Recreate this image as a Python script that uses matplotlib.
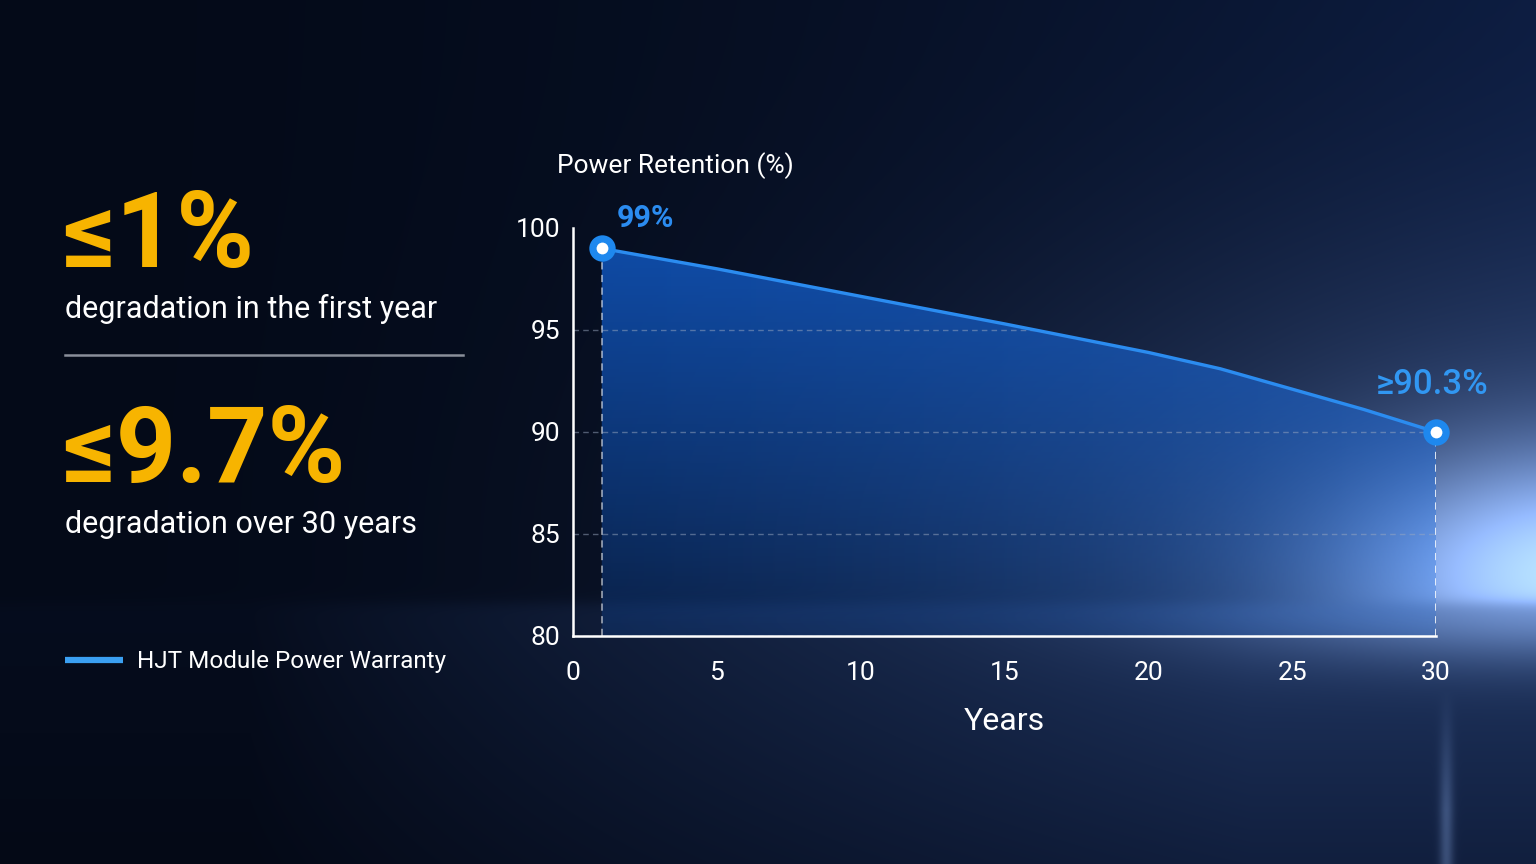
import matplotlib.pyplot as plt
import numpy as np
from matplotlib.patches import Polygon

# data
years = [1, 5, 10, 15, 20, 22.5, 25, 27.5, 30]
retention = [99.0, 98.0, 96.65, 95.3, 93.9, 93.1, 92.1, 91.1, 90.0]
x_ticks = [0, 5, 10, 15, 20, 25, 30]
y_ticks = [80, 85, 90, 95, 100]
first_label = '99%'
last_label = '≥90.3%'
stat_1 = '≤1%'
stat_1_text = 'degradation in the first year'
stat_2 = '≤9.7%'
stat_2_text = 'degradation over 30 years'
series_name = 'HJT Module Power Warranty'

W, H = 1536, 864
FONT = ['Roboto', 'DejaVu Sans']
YELLOW = '#f7b400'
BLUE = '#2b8cf0'
plt.rcParams['font.family'] = FONT


def fx(px):
    return px / W


def fy(py):
    return 1 - py / H


def background():
    yy, xx = np.mgrid[0:H, 0:W].astype(float)
    t = (xx / W) ** 1.8
    c0 = np.array([4, 10, 24]) / 255
    c1 = np.array([12, 28, 64]) / 255
    sky = c0 * (1 - t[..., None]) + c1 * t[..., None]
    glow_col = np.array([180, 208, 250]) / 255
    core = np.exp(-(((xx - 1580) / 240) ** 2 + ((yy - 575) / 120) ** 2))
    wide = np.exp(-(((xx - 1600) / 620) ** 2 + ((yy - 560) / 300) ** 2))
    sky = sky + (core * 0.75 + wide * 0.22)[..., None] * glow_col
    # ocean below the horizon
    h = 1 / (1 + np.exp(-(yy - 603) / 4))
    ot = np.clip((yy - 600) / 264, 0, 1)[..., None]
    side = (np.clip((xx - 250) / 1000, 0, 1) ** 0.9)[..., None]
    near = np.array([6, 13, 30]) / 255 * (1 - side) + np.array([32, 54, 98]) / 255 * side
    far = np.array([4, 9, 22]) / 255 * (1 - side) + np.array([17, 31, 62]) / 255 * side
    sea = near * (1 - ot) + far * ot
    oglow = np.exp(-(((xx - 1570) / 330) ** 2 + ((yy - 605) / 55) ** 2)) * 0.45
    streak = np.exp(-((xx - 1446) / 7) ** 2) * np.clip((yy - 690) / 120, 0, 1) * 0.22
    sea = sea + (oglow + streak)[..., None] * glow_col
    out = sky * (1 - h[..., None]) + sea * h[..., None]
    return np.clip(out, 0, 1)


fig = plt.figure(figsize=(15.36, 8.64), dpi=100)
bg = fig.add_axes([0, 0, 1, 1])
bg.imshow(background(), aspect='auto', extent=[0, W, H, 0], zorder=0)
bg.axis('off')

# left text column
fig.text(fx(62), fy(267), stat_1, color=YELLOW, fontsize=76, fontweight='bold',
         va='baseline', ha='left')
fig.text(fx(65), fy(318), stat_1_text, color='white', fontsize=22, va='baseline')
fig.add_artist(plt.Line2D([fx(65), fx(463)], [fy(355), fy(355)],
                          color='#8a8f9a', lw=1.8))
fig.text(fx(62), fy(482), stat_2, color=YELLOW, fontsize=76, fontweight='bold',
         va='baseline', ha='left')
fig.text(fx(65), fy(533), stat_2_text, color='white', fontsize=22, va='baseline')
fig.add_artist(plt.Line2D([fx(65), fx(123)], [fy(660), fy(660)],
                          color='#3ba0f2', lw=4.5, solid_capstyle='butt'))
fig.text(fx(137), fy(668), series_name, color='white', fontsize=17.5, va='baseline')

# chart
ax = fig.add_axes([fx(573), fy(636), fx(1436) - fx(573), (636 - 228) / H])
ax.set_facecolor('none')
ax.set_xlim(x_ticks[0], x_ticks[-1])
ax.set_ylim(y_ticks[0], y_ticks[-1])

area = Polygon(np.column_stack([years + years[::-1],
                                retention + [y_ticks[0]] * len(years)]),
               closed=True, facecolor='none', edgecolor='none',
               transform=ax.transData)
ax.add_patch(area)

ny, nx = 200, 300
gy = np.linspace(1, 0, ny)[:, None]
gx = np.linspace(0, 1, nx)[None, :]
grad = np.zeros((ny, nx, 4))
grad[..., 0] = 0.07 + 0.04 * gx
grad[..., 1] = 0.38 + 0.04 * gx
grad[..., 2] = 0.84 + 0.03 * gx
grad[..., 3] = np.clip(0.18 + 0.58 * gy ** 0.9, 0, 1)
im = ax.imshow(grad, aspect='auto', origin='upper',
               extent=[x_ticks[0], x_ticks[-1], y_ticks[0], y_ticks[-1]], zorder=1)
im.set_clip_path(area)

grid_area = Polygon(np.column_stack([[x_ticks[0]] + years + [years[-1], x_ticks[0]],
                                     [retention[0]] + retention + [y_ticks[0], y_ticks[0]]]),
                    closed=True, facecolor='none', edgecolor='none',
                    transform=ax.transData)
ax.add_patch(grid_area)
ax.set_yticks(y_ticks)
ax.set_xticks(x_ticks)
ax.yaxis.grid(True, color='#9aa8c0', alpha=0.5, lw=1, ls=(0, (4, 3)))
for gl in ax.get_ygridlines():
    gl.set_clip_path(grid_area)

for xv, yv, a in [(years[0], retention[0], 0.55), (years[-1], retention[-1], 0.9)]:
    ax.vlines(xv, y_ticks[0], yv, colors='white', alpha=a, lw=1.3,
              linestyles=(0, (4, 3)), zorder=3)

ax.plot(years, retention, color=BLUE, lw=2.4, zorder=4, solid_capstyle='round',
        solid_joinstyle='round')
ends_x = [years[0], years[-1]]
ends_y = [retention[0], retention[-1]]
ax.plot(ends_x, ends_y, ls='none', marker='o', ms=19, mfc='#1e88ee', mec='none',
        zorder=5, clip_on=False)
ax.plot(ends_x, ends_y, ls='none', marker='o', ms=8.5, mfc='white', mec='none',
        zorder=6, clip_on=False)

ax.annotate(first_label, (years[0], retention[0]), xytext=(15, 30),
            textcoords='offset pixels', color=BLUE, fontsize=22, fontweight='bold',
            ha='left', va='center', annotation_clip=False)
ax.annotate(last_label, (years[-1], retention[-1]), xytext=(-4, 48),
            textcoords='offset pixels', color='#3197f2', fontsize=25,
            fontweight='medium', ha='center', va='center', annotation_clip=False)

for s in ('top', 'right'):
    ax.spines[s].set_visible(False)
for s in ('left', 'bottom'):
    ax.spines[s].set_color('white')
    ax.spines[s].set_linewidth(1.8)

ax.tick_params(axis='both', which='major', length=0, colors='white', labelsize=19)
ax.tick_params(axis='y', pad=9)
ax.tick_params(axis='x', pad=18)
ax.set_yticks([y_ticks[-1]], minor=True)
ax.set_xticks([x_ticks[-1]], minor=True)
ax.tick_params(which='minor', direction='in', length=5, width=1.6, color='white')

fig.text(fx(557), fy(173), 'Power Retention (%)', color='white', fontsize=19,
         va='baseline', ha='left')
ax.set_xlabel('Years', color='white', fontsize=23, labelpad=16)

fig.savefig('out.png', dpi=100)
